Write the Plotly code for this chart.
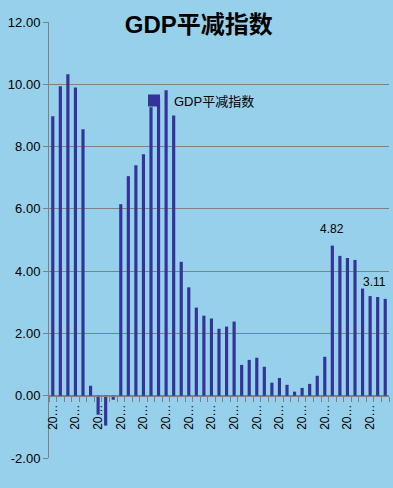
import plotly.graph_objects as go

# Quarterly categories (labels shown truncated as in the reference)
categories = [f"{2008 + i // 4}Q{i % 4 + 1}" for i in range(45)]
deflator = [8.97, 9.94, 10.32, 9.90, 8.56, 0.32, -0.61, -0.96, -0.13,
            6.15, 7.05, 7.40, 7.75, 9.26, 9.52, 9.81, 9.00,
            4.30, 3.48, 2.83, 2.57, 2.48, 2.15, 2.22, 2.38,
            0.99, 1.15, 1.22, 0.93, 0.42, 0.57, 0.35, 0.13, 0.25, 0.38, 0.64, 1.25,
            4.82, 4.49, 4.42, 4.36, 3.44, 3.20, 3.17, 3.11]
labelled_idx = [37, 44]
tick_every = 3
y_ticks = [-2, 0, 2, 4, 6, 8, 10, 12]

ticktext = [c[:2] + "…" if i % tick_every == 0 else "" for i, c in enumerate(categories)]

FONT = "Liberation Sans, Arial, Noto Sans CJK SC, sans-serif"
BG = "#97D0EA"
GRID = "#808080"
BAR = "#333399"

fig = go.Figure()
fig.add_trace(go.Bar(x=categories, y=deflator, name="GDP平减指数",
                     marker=dict(color=BAR, line=dict(width=0))))

for i in labelled_idx:
    fig.add_annotation(x=categories[i], y=deflator[i], text=f"{deflator[i]:.2f}",
                       showarrow=False, yshift=17, xshift=(-11 if i == len(categories) - 1 else 0),
                       font=dict(family=FONT, size=12, color="#000000"))

fig.update_layout(
    width=393, height=488,
    paper_bgcolor=BG, plot_bgcolor=BG,
    margin=dict(l=49, r=4, t=22, b=30, autoexpand=False),
    bargap=0.58,
    title=dict(text="<b>GDP平减指数</b>", x=0.506, xanchor="center", y=0.95, yanchor="middle",
               font=dict(family=FONT, size=24, color="#000000")),
    showlegend=True,
    legend=dict(x=0.25, y=0.82, xanchor="left", yanchor="middle", bgcolor="rgba(0,0,0,0)",
                font=dict(family=FONT, size=13, color="#000000"), itemwidth=30),
    font=dict(family=FONT, size=12, color="#000000"),
)
fig.update_xaxes(type="category", anchor="free", position=2 / 14,
                 showline=True, linecolor=GRID, linewidth=1,
                 tickmode="array", tickvals=categories, ticktext=ticktext,
                 tickangle=-90, ticks="outside", tickson="boundaries", ticklen=5,
                 ticklabelstandoff=3,
                 tickcolor=GRID, showgrid=False, automargin=False,
                 tickfont=dict(family=FONT, size=12, color="#000000"))
fig.update_yaxes(range=[-2, 12], tickmode="array", tickvals=y_ticks,
                 ticktext=[f"{v:.2f}" for v in y_ticks],
                 showgrid=True, gridcolor=GRID, gridwidth=1, zeroline=False,
                 showline=True, linecolor=GRID, linewidth=1, automargin=False,
                 ticks="outside", ticklen=5, tickcolor=GRID,
                 tickfont=dict(family=FONT, size=13, color="#000000"))

fig.write_html("out.html", config={"displayModeBar": False},
               post_script=f"document.body.style.margin='0';document.body.style.background='{BG}';")
